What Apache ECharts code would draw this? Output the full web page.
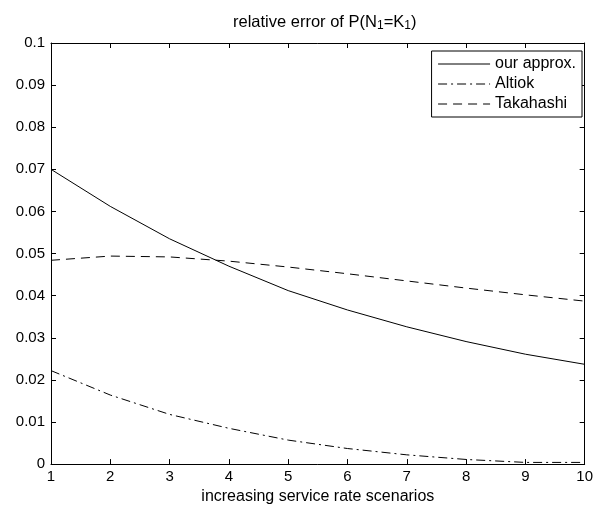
<!DOCTYPE html>
<html>
<head>
<meta charset="utf-8">
<script src="https://cdn.jsdelivr.net/npm/echarts@6/dist/echarts.min.js"></script>
<style>html,body{margin:0;padding:0;background:#fff}#c{width:596px;height:510px}</style>
</head>
<body>
<div id="c"></div>
<script>
var scenarios = [1, 2, 3, 4, 5, 6, 7, 8, 9, 10];
var ourApprox = [0.0700, 0.0612, 0.0535, 0.0470, 0.0412, 0.0366, 0.0326, 0.0291, 0.0261, 0.0237];
var altiok    = [0.0222, 0.0164, 0.0118, 0.0085, 0.0057, 0.0037, 0.0022, 0.0011, 0.0004, 0.0004];
var takahashi = [0.0484, 0.0494, 0.0492, 0.0482, 0.0468, 0.0452, 0.0435, 0.0418, 0.0402, 0.0387];
var seriesNames = ['our approx.', 'Altiok', 'Takahashi'];

function pairs(v) { return scenarios.map(function (x, i) { return [x, v[i]]; }); }

var font = 'Liberation Sans, Arial, Helvetica, sans-serif';
var chart = echarts.init(document.getElementById('c'), null, { renderer: 'canvas' });
var tickStyle = { show: true, inside: true, length: 5, lineStyle: { color: '#000', width: 1 } };
chart.setOption({
  animation: false,
  backgroundColor: '#fff',
  title: {
    text: 'relative error of P(N{s|1}=K{s|1})',
    left: 228, top: 7,
    textStyle: { fontFamily: font, fontSize: 16.5, fontWeight: 'normal', color: '#000',
      rich: { s: { fontFamily: font, fontSize: 12, color: '#000', verticalAlign: 'bottom', padding: [8, 0, 0, 0] } } }
  },
  grid: { left: 51, right: 9, top: 43, bottom: 44, containLabel: false },
  legend: {
    orient: 'vertical', right: 14, top: 51,
    data: seriesNames,
    backgroundColor: '#fff', borderColor: '#000', borderWidth: 1,
    padding: [5, 6, 5, 6], itemWidth: 52, itemHeight: 14, itemGap: 4,
    itemStyle: { opacity: 0 },
    lineStyle: { width: 1 },
    textStyle: { fontFamily: font, fontSize: 16, color: '#000' }
  },
  xAxis: [{
    type: 'value', min: 1, max: 10, interval: 1,
    name: 'increasing service rate scenarios', nameLocation: 'middle', nameGap: 23,
    nameTextStyle: { fontFamily: font, fontSize: 16, color: '#000' },
    axisLine: { show: true, onZero: false, lineStyle: { color: '#000', width: 1 } },
    axisTick: tickStyle, splitLine: { show: false },
    axisLabel: { fontFamily: font, fontSize: 15, color: '#000', margin: 5 }
  }, {
    type: 'value', min: 1, max: 10, interval: 1, position: 'top',
    axisLine: { show: true, onZero: false, lineStyle: { color: '#000', width: 1 } },
    axisTick: tickStyle, splitLine: { show: false }, axisLabel: { show: false }
  }],
  yAxis: [{
    type: 'value', min: 0, max: 0.1, interval: 0.01,
    axisLine: { show: true, onZero: false, lineStyle: { color: '#000', width: 1 } },
    axisTick: tickStyle, splitLine: { show: false },
    axisLabel: { fontFamily: font, fontSize: 15, color: '#000', margin: 6,
      formatter: function (v) { return String(Math.round(v * 100) / 100); } }
  }, {
    type: 'value', min: 0, max: 0.1, interval: 0.01, position: 'right',
    axisLine: { show: true, onZero: false, lineStyle: { color: '#000', width: 1 } },
    axisTick: tickStyle, splitLine: { show: false }, axisLabel: { show: false }
  }],
  series: [{
    name: seriesNames[0], type: 'line', data: pairs(ourApprox), symbol: 'none',
    lineStyle: { color: '#000', width: 1, type: 'solid' }, itemStyle: { color: '#000' }
  }, {
    name: seriesNames[1], type: 'line', data: pairs(altiok), symbol: 'none',
    lineStyle: { color: '#000', width: 1, type: [9, 4, 2, 4] }, itemStyle: { color: '#000' }
  }, {
    name: seriesNames[2], type: 'line', data: pairs(takahashi), symbol: 'none',
    lineStyle: { color: '#000', width: 1, type: [9, 6] }, itemStyle: { color: '#000' }
  }]
});
</script>
</body>
</html>
